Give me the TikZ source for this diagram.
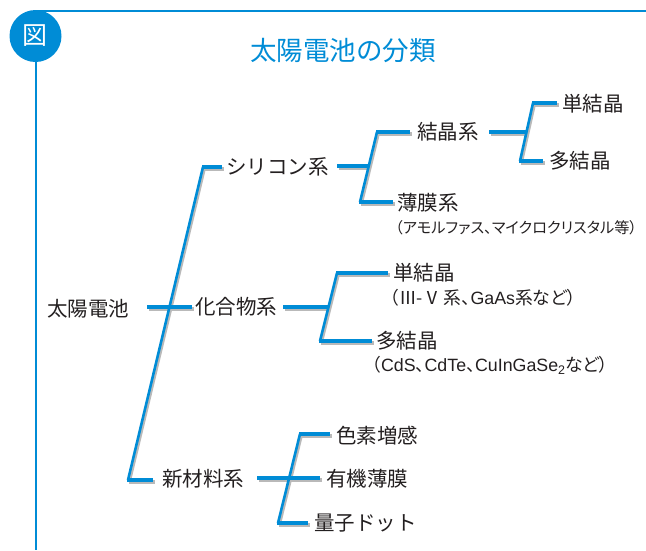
\documentclass[tikz,border=0pt]{standalone}
\usepackage{fontspec}
\setmainfont{Noto Sans CJK JP}
\newfontfamily\subfont{Noto Sans CJK JP}[RawFeature=+palt]
\newfontfamily\latfont{Liberation Sans}
\definecolor{zblue}{RGB}{0,140,214}
\definecolor{ztext}{RGB}{35,31,32}
\definecolor{zshadow}{RGB}{185,185,185}
\newcommand\zbar[3]{%
  \draw[#1, draw=zshadow] ([shift={(1.6,1.6)}]#2) -- ([shift={(1.6,1.6)}]#3);}
\newcommand\lat[1]{{\latfont #1}}
\begin{document}
\begin{tikzpicture}[x=1pt,y=-1pt,
  lbl/.style={anchor=west, inner sep=0pt, font=\fontsize{20.5}{22}\selectfont, text=ztext},
  sublbl/.style={anchor=west, inner sep=0pt, font=\subfont\fontsize{15.2}{17}\selectfont, text=ztext},
  sublblb/.style={anchor=west, inner sep=0pt, font=\subfont\fontsize{17.8}{19}\selectfont, text=ztext},
  hbar/.style={draw=zblue, line width=4pt},
  slant/.style={draw=zblue, line width=2.6pt}]
\useasboundingbox (0,0) rectangle (646,550);
% frame
\draw[zblue, line width=2pt] (36,11) -- (646,11);
\draw[zblue, line width=2pt] (36,36) -- (36,550);
\node[circle, fill=zblue, minimum size=52pt, inner sep=0pt] (badge) at (35.5,36) {};
\node[text=white, font=\fontsize{25}{25}\selectfont] (zu) at (35.5,36) {図};
\node[text=zblue, font=\fontsize{26.5}{28}\selectfont] (title) at (343,51) {太陽電池の分類};
% labels
\node[lbl] (root) at (47,309) {太陽電池};
\node[lbl] (si) at (226,167) {シリコン系};
\node[lbl] (cmp) at (195,307) {化合物系};
\node[lbl] (new) at (162,479) {新材料系};
\node[lbl] (kes) at (417,132) {結晶系};
\node[lbl] (hak) at (397,203) {薄膜系};
\node[sublbl] (haksub) at (395,228) {（アモルファス、マイクロクリスタル等）};
\node[lbl] (tanA) at (562,104) {単結晶};
\node[lbl] (taA) at (549,161) {多結晶};
\node[lbl] (tanB) at (393,273) {単結晶};
\node[sublblb] (tanBsub) at (390,298) {（Ⅲ-Ⅴ\,系、\lat{GaAs}系など）};
\node[lbl] (taB) at (376,341) {多結晶};
\node[sublblb] (taBsub) at (372,365) {（\lat{CdS}、\lat{CdTe}、\lat{CuInGaSe\textsubscript{2}}など）};
\node[lbl] (shiki) at (336,436) {色素増感};
\node[lbl] (yuki) at (326,479) {有機薄膜};
\node[lbl] (ryo) at (314,523) {量子ドット};
% coordinates
\coordinate (m0) at (147,307); \coordinate (m1) at (192,307);
\coordinate (mt) at (203,167); \coordinate (mb) at (128,480);
\coordinate (mts) at (202,167); \coordinate (mbs) at (127,480);
\coordinate (mte) at (222,167); \coordinate (mbe) at (153,480);
\coordinate (s0) at (337,166); \coordinate (s1) at (369,166);
\coordinate (st) at (377,132); \coordinate (sb) at (360,202);
\coordinate (sts) at (376,132); \coordinate (sbs) at (359,202);
\coordinate (ste) at (410,132); \coordinate (sbe) at (393,202);
\coordinate (k0) at (489,132); \coordinate (k1) at (527,132);
\coordinate (kt) at (533,103); \coordinate (kb) at (520,161);
\coordinate (kts) at (532,103); \coordinate (kbs) at (519,161);
\coordinate (kte) at (557,103); \coordinate (kbe) at (543,161);
\coordinate (c0) at (283,307); \coordinate (c1) at (329,307);
\coordinate (ct) at (337,273); \coordinate (cb) at (320,341);
\coordinate (cts) at (336,273); \coordinate (cbs) at (319,341);
\coordinate (cte) at (388,273); \coordinate (cbe) at (372,341);
\coordinate (n0) at (257,478); \coordinate (n1) at (320,478);
\coordinate (nt) at (300,434); \coordinate (nb) at (278,523);
\coordinate (nts) at (299,434); \coordinate (nbs) at (277,523);
\coordinate (nte) at (330,434); \coordinate (nbe) at (308,523);
% shadows
\foreach \p in {m,s,k,c,n}{
  \zbar{line width=2.6pt}{\p t}{\p b}
  \zbar{line width=4pt}{\p ts}{\p te}
  \zbar{line width=4pt}{\p bs}{\p be}
  \zbar{line width=4pt}{\p 0}{\p 1}
}
% blue lines
\foreach \p in {m,s,k,c,n}{
  \path[slant] (\p t) -- (\p b);
  \path[hbar] (\p ts) -- (\p te);
  \path[hbar] (\p bs) -- (\p be);
  \path[hbar] (\p 0) -- (\p 1);
}
\end{tikzpicture}
\end{document}
